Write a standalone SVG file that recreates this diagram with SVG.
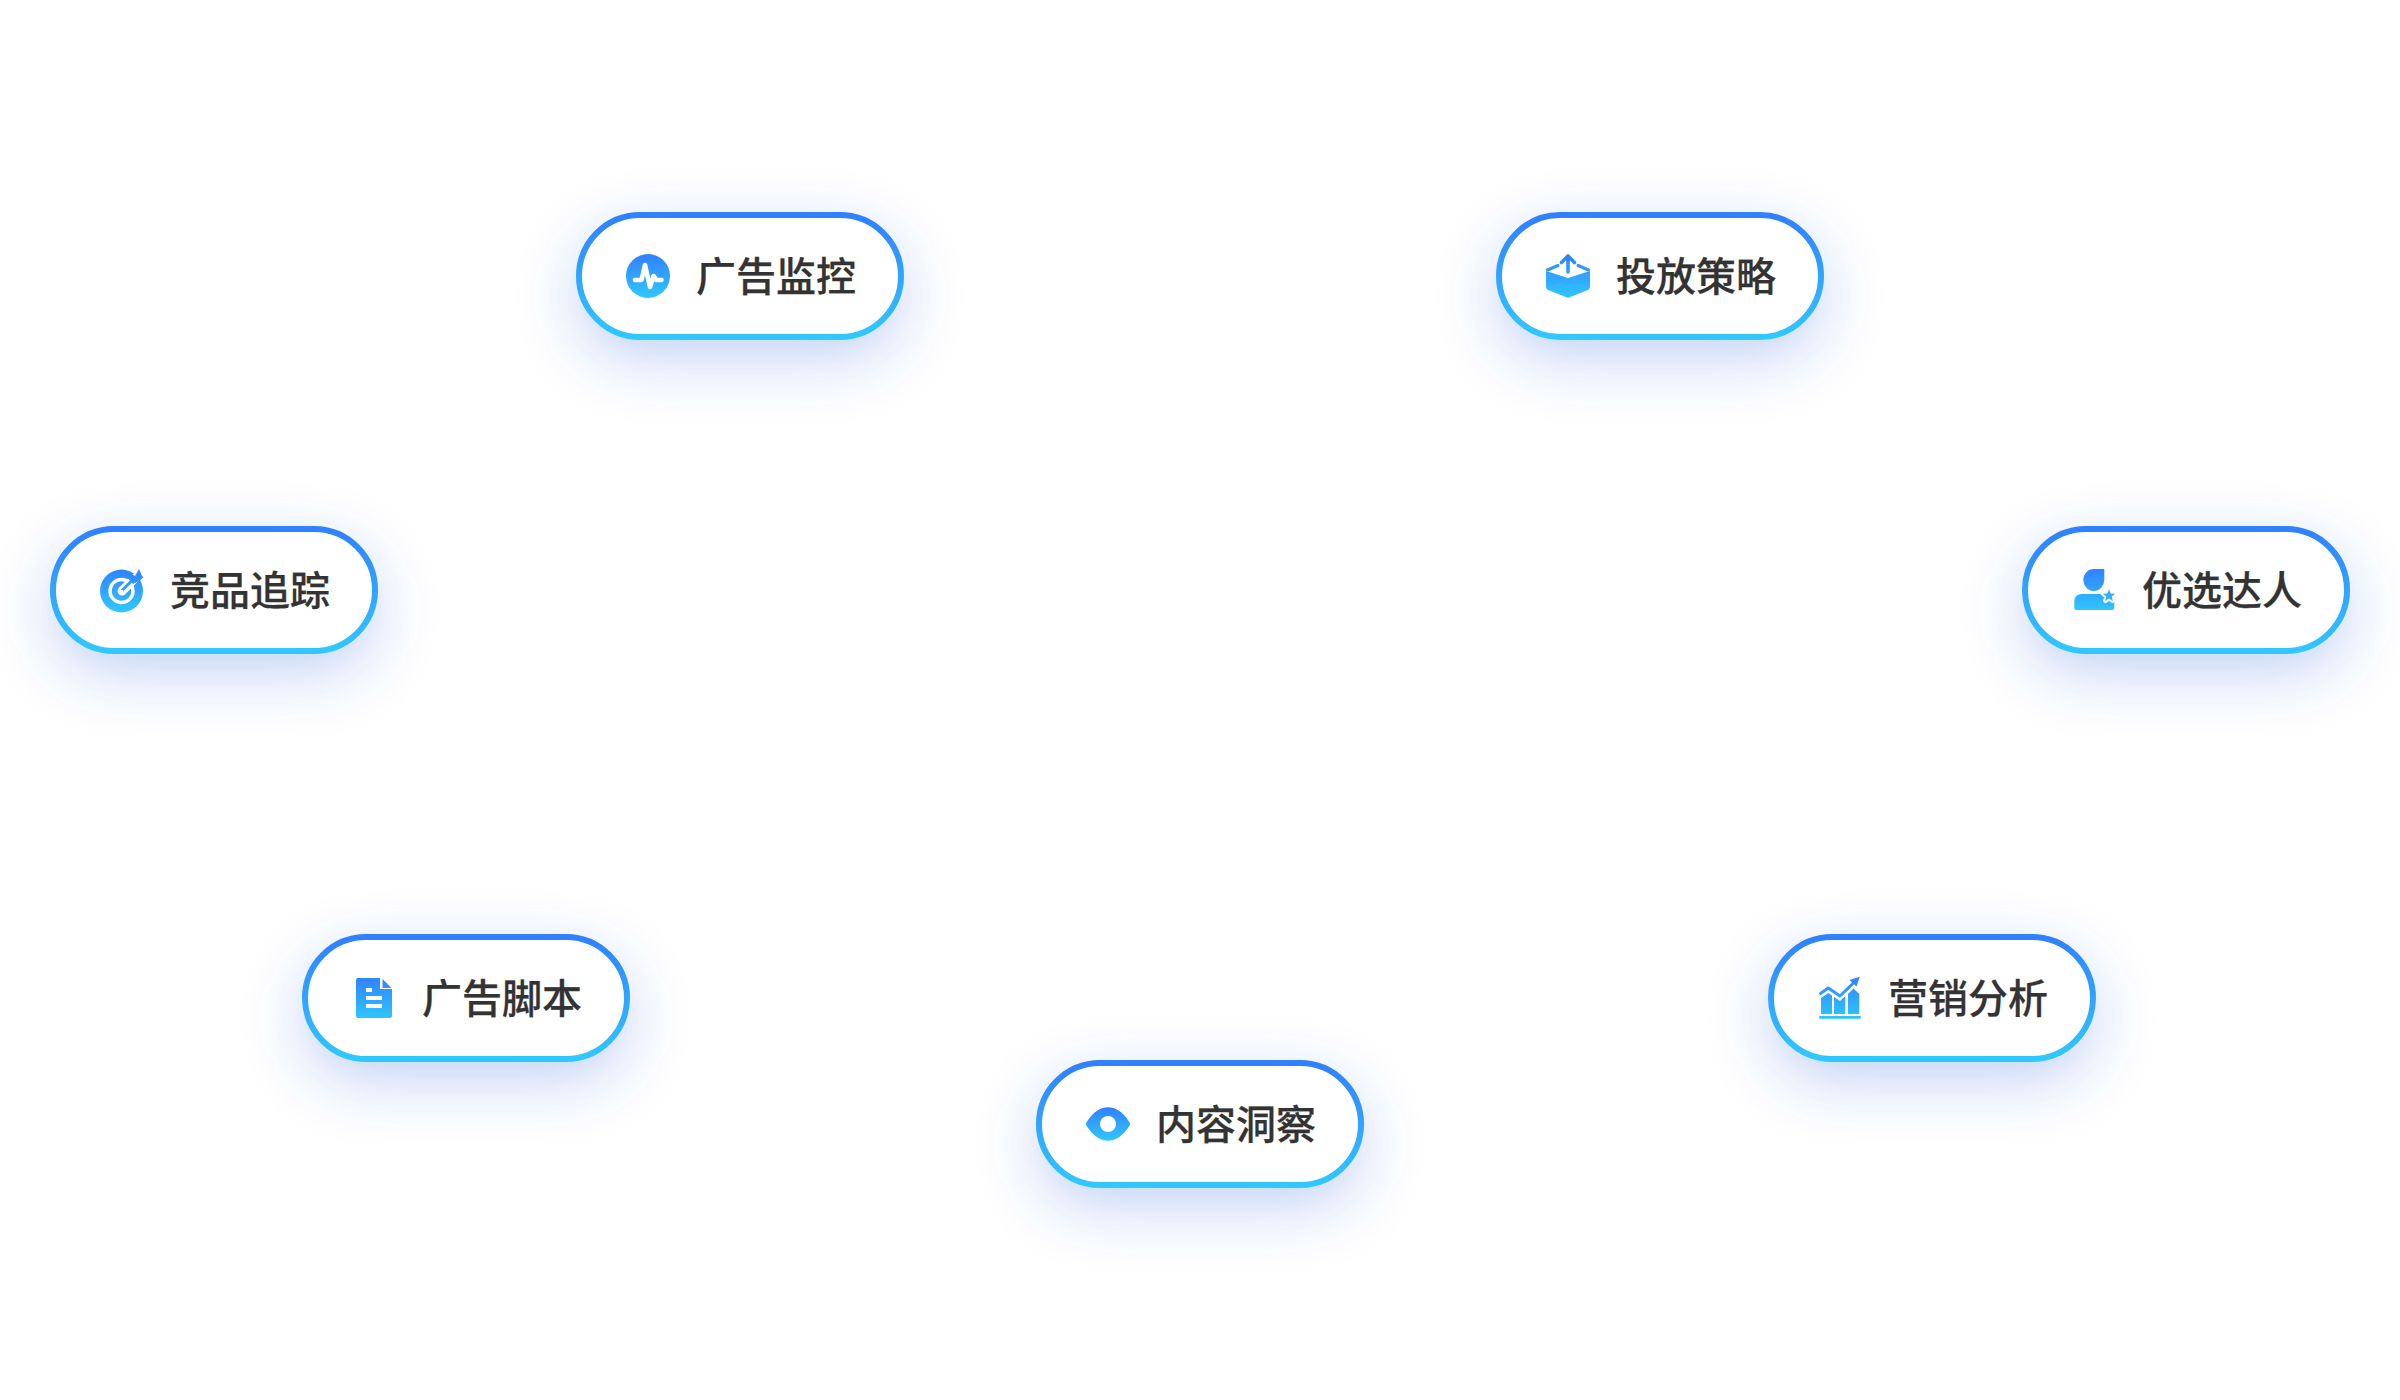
<svg xmlns="http://www.w3.org/2000/svg" width="2400" height="1400" viewBox="0 0 2400 1400">
<defs>
<linearGradient id="g" x1="0" y1="0" x2="0" y2="1"><stop offset="0" stop-color="#3080ff"/><stop offset="1" stop-color="#30c8ff"/></linearGradient>
<linearGradient id="u" gradientUnits="userSpaceOnUse" x1="0" y1="42" x2="0" y2="86"><stop offset="0" stop-color="#3080ff"/><stop offset="1" stop-color="#30c8ff"/></linearGradient>
<filter id="blur" x="-50%" y="-100%" width="200%" height="300%"><feGaussianBlur stdDeviation="30"/></filter>
<g id="pill">
<rect class="sh" x="0" y="20" width="328" height="128" rx="64" filter="url(#blur)"/>
<rect class="pl" x="3" y="3" width="322" height="122" rx="61"/>
</g>
</defs>
<style>
.sh{fill:#2a66dc;fill-opacity:.28}
.pl{fill:#fff;stroke:url(#g);stroke-width:6}
.t{font-family:"Noto Sans CJK SC","Noto Sans",sans-serif;font-size:40px;font-weight:500;fill:#333;stroke:#333;stroke-width:.25}
.i{fill:url(#u)}
.w{fill:none;stroke:#fff;stroke-linecap:round;stroke-linejoin:round}
.b{fill:none;stroke:url(#u);stroke-linecap:round;stroke-linejoin:round}
.f{fill:#fff}
</style>
<rect width="2400" height="1400" fill="#fff"/>

<g id="node-ad-monitor" transform="translate(576,212)">
<use href="#pill"/>
<circle class="i" cx="72" cy="64" r="22"/>
<polyline class="w" stroke-width="4.6" points="59,68 65.5,68 69,53 74,75 77.5,64 80.5,68 85.5,68"/>
<text class="t" x="120" y="79">广告监控</text>
</g>

<g id="node-strategy" transform="translate(1496,212)">
<use href="#pill"/>
<path class="i" d="M50,59 L72,66 L94,59 V75 Q94,77 92,78 L73,85.5 Q72,86 71,85.5 L52,78 Q50,77 50,75 Z"/>
<polyline class="b" stroke-width="3" points="51.5,58 62,53.5"/>
<polyline class="b" stroke-width="3" points="92.5,58 82,53.5"/>
<path class="b" stroke-width="3.6" d="M72,60 V44 M65.5,50.5 L72,44 L78.5,50.5"/>
<text class="t" x="120" y="79">投放策略</text>
</g>

<g id="node-competitor" transform="translate(50,526)">
<use href="#pill"/>
<circle class="i" cx="71.5" cy="65" r="21.5"/>
<circle cx="71.5" cy="65" r="11.5" fill="none" stroke="#fff" stroke-width="3.4"/>
<circle class="i" cx="71.5" cy="65" r="6"/>
<path class="w" stroke-width="9" d="M72,65 L85,52"/>
<path class="b" stroke-width="3" d="M72.5,64 L85,51.5"/>
<polygon class="i" points="80,46.5 85,50 89,43 92,50 93.5,51 90,54.5 83,58 77.5,52"/>
<path class="f" d="M71,64 h2 v2 h-2z"/>
<text class="t" x="120" y="79">竞品追踪</text>
</g>

<g id="node-talent" transform="translate(2022,526)">
<use href="#pill"/>
<path class="i" d="M72,43 H82.3 V54 A10.5,11 0 0 1 61.3,54 A10.5,11 0 0 1 72,43 Z"/>
<path class="i" d="M60,68 H86 Q92.3,68 92.3,76 V82 Q92.3,84 90,84 H54 Q52.3,84 52.3,82 V76 Q52.3,68 60,68 Z"/>
<polygon points="87,63.2 88.6,67.4 93.2,67.7 89.7,70.6 90.8,75 87,72.5 83.2,75 84.3,70.6 80.8,67.7 85.4,67.4" fill="#fff" stroke="#fff" stroke-width="4" stroke-linejoin="round"/>
<polygon class="i" points="87,63.2 88.6,67.4 93.2,67.7 89.7,70.6 90.8,75 87,72.5 83.2,75 84.3,70.6 80.8,67.7 85.4,67.4"/>
<text class="t" x="120" y="79">优选达人</text>
</g>

<g id="node-ad-script" transform="translate(302,934)">
<use href="#pill"/>
<path class="i" d="M56,44 H78 V55 H90 V82 Q90,84 88,84 H56 Q54,84 54,82 V46 Q54,44 56,44 Z"/>
<polygon class="i" points="80.5,45 89.5,54 80.5,54"/>
<rect class="f" x="64" y="54" width="6" height="4"/>
<rect class="f" x="64" y="62" width="16" height="4"/>
<rect class="f" x="64" y="70" width="16" height="4"/>
<text class="t" x="120" y="79">广告脚本</text>
</g>

<g id="node-marketing" transform="translate(1768,934)">
<use href="#pill"/>
<polygon class="i" points="53,80 53,64 60.3,59 64,61.5 64,80"/>
<polygon class="i" points="66,80 66,63 72,67 77.3,62 77.3,80"/>
<polygon class="i" points="80,80 80,60 85.5,54.5 91.3,60 91.3,80"/>
<rect class="i" x="51.3" y="82" width="41.4" height="2.8"/>
<polyline class="b" stroke-width="3" stroke-linecap="butt" points="52.5,59.5 60.3,54 72,62 86,48.5"/>
<polygon class="i" points="91.8,42.7 88.5,52.5 81.5,46"/>
<text class="t" x="120" y="79">营销分析</text>
</g>

<g id="node-content" transform="translate(1036,1060)">
<use href="#pill"/>
<path fill="url(#g)" d="M50,64 Q50,62.5 51,61.5 C58,51 65,47.3 72,47.3 C79,47.3 86,51 93,61.5 Q94,62.5 94,64 Q94,65.5 93,66.5 C86,77 79,80.7 72,80.7 C65,80.7 58,77 51,66.5 Q50,65.5 50,64 Z"/>
<circle class="f" cx="72" cy="64" r="8"/>
<text class="t" x="120" y="79">内容洞察</text>
</g>
</svg>
